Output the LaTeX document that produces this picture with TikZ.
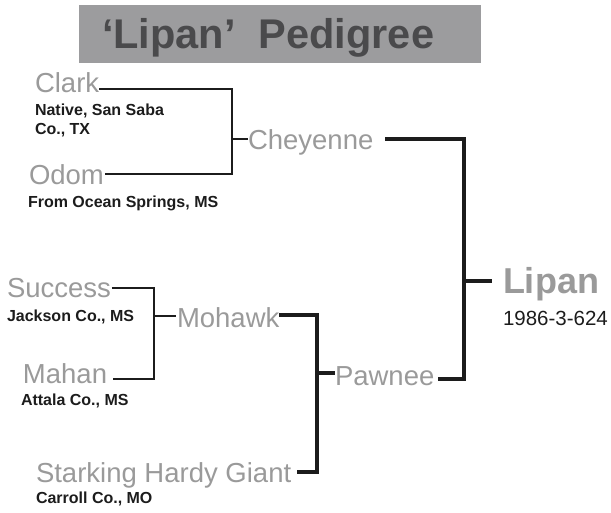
\documentclass[tikz,border=0pt]{standalone}
\usepackage{fontspec}
\setmainfont{Liberation Sans}
\definecolor{namegray}{HTML}{9A9A9A}
\definecolor{titlegray}{HTML}{4A4A4C}
\definecolor{boxgray}{HTML}{9C9C9E}
\definecolor{ink}{HTML}{1C1C1C}
\begin{document}
\begin{tikzpicture}[x=1pt,y=-1pt,
  lblbase/.style={anchor=base west,inner sep=0pt,outer sep=0pt},
  cvname/.style={lblbase,text=namegray,font=\fontsize{27.5}{30}\selectfont},
  origin/.style={lblbase,text=ink,font=\fontsize{16}{19}\selectfont\bfseries,align=left},
  thinwire/.style={draw=ink,line width=2.6pt,line join=miter},
  thickwire/.style={draw=ink,line width=4pt,line join=miter}]
\useasboundingbox (0,0) rectangle (611,512);
% title
\fill[boxgray] (79,5) rectangle (481,63);
\node[lblbase,text=titlegray,font=\fontsize{41.5}{44}\selectfont\bfseries] (title) at (102,48) {‘Lipan’\ \ Pedigree};
% names
\node[cvname] (clark) at (35,92) {Clark};
\node[origin] (clarkp) at (35,115) {Native, San Saba};
\node[origin] (clarkp2) at (35,134) {Co., TX};
\node[cvname] (odom) at (29,184) {Odom};
\node[origin] (odomp) at (28,207) {From Ocean Springs, MS};
\node[cvname] (chey) at (248,149) {Cheyenne};
\node[lblbase,text=namegray,font=\fontsize{36}{40}\selectfont\bfseries] (lipan) at (503,293) {Lipan};
\node[lblbase,text=ink,font=\fontsize{20.5}{24}\selectfont] (lipanp) at (503,325) {1986-3-624};
\node[cvname] (succ) at (7,297) {Success};
\node[origin] (succp) at (7,321) {Jackson Co., MS};
\node[cvname] (mahan) at (23,383) {Mahan};
\node[origin] (mahanp) at (21,405) {Attala Co., MS};
\node[cvname] (mohawk) at (177,327) {Mohawk};
\node[cvname] (pawnee) at (335,385) {Pawnee};
\node[cvname] (stark) at (36,482) {Starking Hardy Giant};
\node[origin] (starkp) at (36,503) {Carroll Co., MO};
% junction coordinates
\coordinate (jct1t) at (232,89);
\coordinate (jct1b) at (232,174);
\coordinate (jct1m) at (232,139);
\coordinate (jmt) at (464,139);
\coordinate (jmb) at (464,379);
\coordinate (jmm) at (464,281);
\coordinate (jst) at (154,288);
\coordinate (jsb) at (154,379);
\coordinate (jsm) at (154,316);
\coordinate (jpt) at (317,315);
\coordinate (jpb) at (317,472);
\coordinate (jpm) at (317,373);
% left wires
\draw[thinwire] (clark.east |- jct1t) -- (jct1t) -- (jct1b) -- ([xshift=1pt]odom.east |- jct1b);
\draw[thinwire] (jct1m) -- (chey.west |- jct1m);
\draw[thinwire] ([xshift=1pt]succ.east |- jst) -- (jst) -- (jsb) -- ([xshift=6pt]mahan.east |- jsb);
\draw[thinwire] (jsm) -- ([xshift=-1pt]mohawk.west |- jsm);
% right wires
\draw[thickwire] ([xshift=12pt]chey.east |- jmt) -- (jmt) -- (jmb) -- ([xshift=4pt]pawnee.east |- jmb);
\draw[thickwire] (jmm) -- ([xshift=-11pt]lipan.west |- jmm);
\draw[thickwire] (mohawk.east |- jpt) -- (jpt) -- (jpb) -- ([xshift=6pt]stark.east |- jpb);
\draw[thickwire] (jpm) -- (pawnee.west |- jpm);
\end{tikzpicture}
\end{document}
